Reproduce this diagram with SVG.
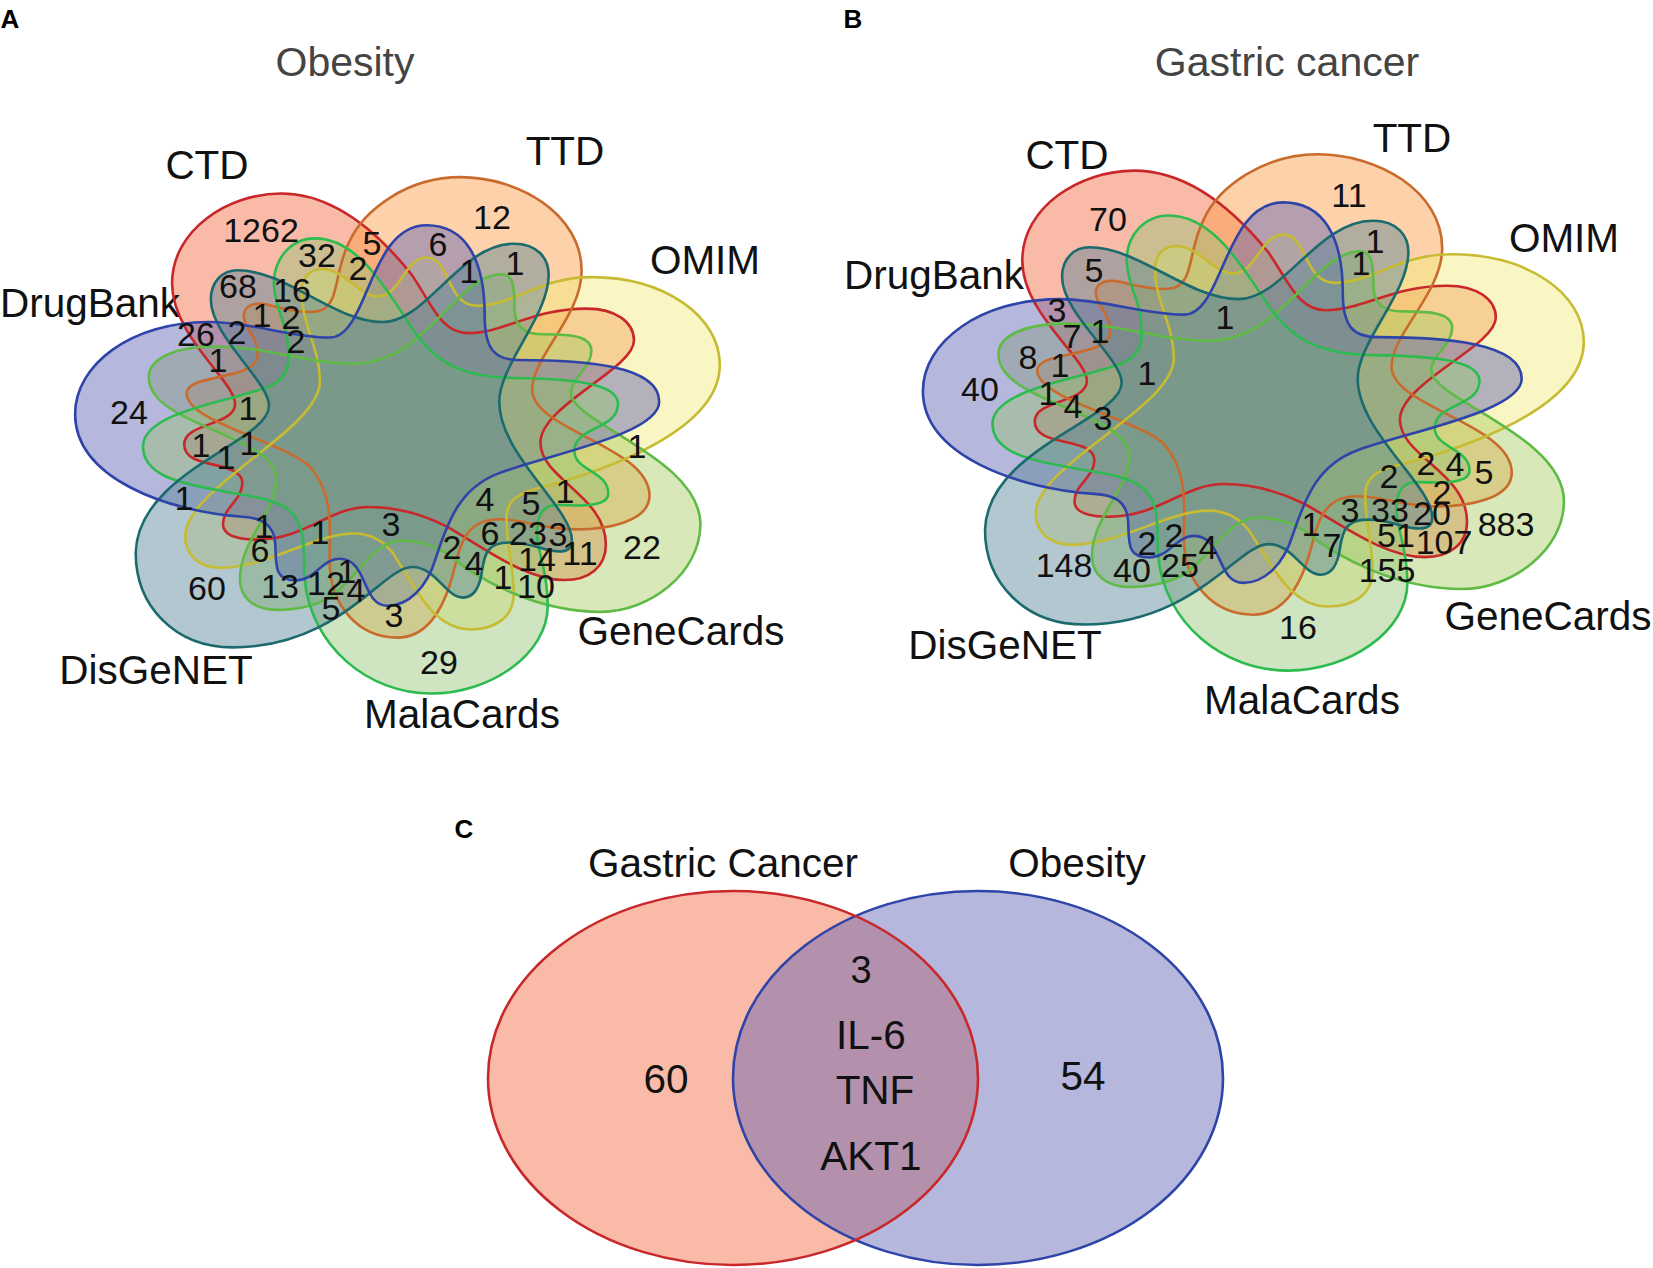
<svg xmlns="http://www.w3.org/2000/svg" width="1653" height="1268" viewBox="0 0 1653 1268">
<style>
text{font-family:"Liberation Sans",Arial,sans-serif;fill:#111;text-anchor:middle}
.n{font-size:34px}.l{font-size:40.5px}.t{font-size:41px;fill:#444}.p{font-size:26px;font-weight:bold;fill:#000}
.f{fill-opacity:.45;stroke:none}.o{fill:none;stroke-width:2.6}
.f.blue{fill:#5d5fb1}.f.red{fill:#f2683e}.f.orange{fill:#fb9b42}.f.yellow{fill:#f2eb7c}.f.lg{fill:#a8cc61}.f.green{fill:#94c373}.f.teal{fill:#548394}
.o.blue{stroke:#2e44a8}.o.red{stroke:#c8282a}.o.orange{stroke:#c96b2c}.o.yellow{stroke:#c6bb32}.o.lg{stroke:#5fbb45}.o.green{stroke:#2dbb50}.o.teal{stroke:#1a6a6e}
</style>
<defs>
<path id="pblue" vector-effect="non-scaling-stroke" d="M155,720C155,600 270,495 430,495C520,495 600,533 680,533C760,533 760,258 880,258C960,258 1000,340 1000,480C1000,560 1020,588 1070,588C1200,588 1360,600 1360,690C1360,770 1130,820 1030,865C950,900 925,980 900,1070C880,1150 840,1190 800,1190C745,1190 760,1075 700,1075C665,1075 650,1128 610,1128C565,1128 570,1090 568,1040C566,990 540,975 500,972C350,960 155,880 155,720Z"/>
<path id="pred" vector-effect="non-scaling-stroke" d="M580,180C680,180 770,260 850,380C890,450 910,522 965,522C1040,522 1100,462 1210,462C1270,462 1308,495 1308,540C1308,610 1115,700 1115,790C1115,880 1250,920 1250,1040C1250,1095 1215,1127 1165,1127C1080,1127 990,1040 920,995C870,965 820,948 760,948C680,948 630,1028 530,1028C480,1028 460,1015 460,990C460,950 500,930 500,890C500,830 380,860 380,795C380,740 485,750 485,695C485,640 355,530 355,400C355,270 470,180 580,180Z"/>
<path id="porange" vector-effect="non-scaling-stroke" d="M950,140C1070,140 1200,230 1200,370C1200,480 1098,580 1098,660C1098,760 1340,800 1340,920C1340,985 1250,1003 1190,1003C1120,1003 1080,978 1030,978C960,978 950,1040 935,1110C915,1200 880,1268 820,1268C740,1268 680,1190 680,1080C680,1000 690,920 640,850C590,790 385,740 385,670C385,620 530,640 532,575C532,530 503,510 503,480C503,450 530,447 550,452C590,465 640,478 665,465C700,445 690,370 720,300C750,220 840,140 950,140Z"/>
<path id="pyellow" vector-effect="non-scaling-stroke" d="M1220,385C1370,385 1485,480 1485,600C1485,760 1250,860 1100,905C1060,920 1045,940 1045,975C1045,1040 1060,1100 1060,1160C1060,1220 1020,1248 970,1248C890,1248 850,1130 810,1060C790,1030 765,1013 730,1013C650,1013 550,1097 455,1097C410,1097 382,1065 382,1020C382,900 660,760 660,640C660,560 622,500 622,420C622,385 640,365 665,365C710,365 740,432 780,432C825,432 835,337 880,337C930,337 920,455 985,455C1060,455 1110,385 1220,385Z"/>
<path id="plg" vector-effect="non-scaling-stroke" d="M1445,990C1445,1110 1340,1205 1240,1205C1110,1205 990,1130 920,1060C890,1040 860,1030 830,1030C770,1030 740,1120 680,1170C650,1190 610,1200 570,1200C525,1200 495,1170 495,1125C495,1030 570,960 570,880C570,770 307,750 307,630C307,580 370,555 440,555C560,555 630,597 730,597C880,597 940,378 1035,378C1065,378 1060,430 1062,470C1064,510 1085,525 1120,525C1180,525 1220,530 1220,565C1220,610 1178,630 1178,670C1178,740 1445,830 1445,990Z"/>
<path id="pgreen" vector-effect="non-scaling-stroke" d="M890,1405C760,1405 640,1290 628,1120C625,1070 635,1000 600,960C570,925 500,920 450,907C370,890 295,870 295,800C295,710 500,685 560,650C600,625 597,590 593,540C590,500 565,450 565,400C565,340 600,290 650,290C740,290 800,420 850,510C900,600 960,630 1060,632C1160,634 1275,640 1275,695C1275,760 1185,750 1185,810C1185,860 1255,860 1255,915C1255,950 1190,945 1150,943C1115,943 1108,975 1108,1010C1108,1060 1130,1100 1130,1190C1130,1310 1010,1405 890,1405Z"/>
<path id="pteal" vector-effect="non-scaling-stroke" d="M280,1060C285,860 555,790 555,700C555,640 435,530 435,440C435,395 460,368 490,368C590,368 690,495 790,495C880,495 950,303 1060,303C1110,303 1132,340 1132,380C1132,480 1030,600 1030,690C1030,820 1180,950 1180,1030C1180,1050 1170,1057 1155,1057C1120,1057 1100,1035 1050,1035C1005,1035 1000,1065 995,1100C990,1150 975,1170 955,1170C920,1170 900,1095 850,1095C790,1095 700,1292 480,1292C360,1292 280,1190 280,1060Z"/>
</defs>
<g id="panel-a-sets">
<g id="a-ctd"><use href="#pred" class="f red" transform="matrix(.4847,0,0,.4082,0,120)"/><text class="l" x="207" y="179">CTD</text></g>
<g id="a-ttd"><use href="#porange" class="f orange" transform="matrix(.4847,0,0,.4082,0,120)"/><text class="l" x="565" y="165">TTD</text></g>
<g id="a-omim"><use href="#pyellow" class="f yellow" transform="matrix(.4847,0,0,.4082,0,120)"/><text class="l" x="705" y="274">OMIM</text></g>
<g id="a-genecards"><use href="#plg" class="f lg" transform="matrix(.4847,0,0,.4082,0,120)"/><text class="l" x="681" y="645">GeneCards</text></g>
<g id="a-drugbank"><use href="#pblue" class="f blue" transform="matrix(.4847,0,0,.4082,0,120)"/><text class="l" x="90" y="317">DrugBank</text></g>
<g id="a-malacards"><use href="#pgreen" class="f green" transform="matrix(.4847,0,0,.4082,0,120)"/><text class="l" x="462" y="728">MalaCards</text></g>
<g id="a-disgenet"><use href="#pteal" class="f teal" transform="matrix(.4847,0,0,.4082,0,120)"/><text class="l" x="156" y="684">DisGeNET</text></g>
</g>
<g id="panel-a-outlines" transform="matrix(.4847,0,0,.4082,0,120)">
<use href="#pred" class="o red"/><use href="#porange" class="o orange"/><use href="#pyellow" class="o yellow"/><use href="#plg" class="o lg"/><use href="#pgreen" class="o green"/><use href="#pteal" class="o teal"/><use href="#pblue" class="o blue"/>
</g>
<g id="panel-a-numbers" class="n">
<text x="261" y="242">1262</text><text x="492" y="229">12</text><text x="372" y="255">5</text><text x="317" y="267">32</text><text x="438" y="256">6</text><text x="358" y="280">2</text><text x="469" y="283">1</text><text x="515" y="275">1</text><text x="238" y="298">68</text><text x="292" y="302">16</text><text x="262" y="327">1</text><text x="291" y="329">2</text><text x="196" y="346">26</text><text x="237" y="344">2</text><text x="296" y="353">2</text><text x="218" y="372">1</text><text x="248" y="420">1</text><text x="129" y="424">24</text><text x="201" y="457">1</text><text x="226" y="469">1</text><text x="249" y="455">1</text><text x="184" y="510">1</text><text x="637" y="458">1</text><text x="485" y="511">4</text><text x="531" y="515">5</text><text x="565" y="503">1</text><text x="642" y="559">22</text><text x="391" y="536">3</text><text x="264" y="538">1</text><text x="320" y="544">1</text><text x="490" y="545">6</text><text x="528" y="545">23</text><text x="558" y="546">3</text><text x="452" y="559">2</text><text x="260" y="562">6</text><text x="474" y="575">4</text><text x="537" y="571">14</text><text x="580" y="565">11</text><text x="503" y="589">1</text><text x="536" y="598">10</text><text x="347" y="583">1</text><text x="280" y="598">13</text><text x="326" y="595">12</text><text x="356" y="602">4</text><text x="331" y="620">5</text><text x="394" y="627">3</text><text x="207" y="600">60</text><text x="439" y="674">29</text>
</g>
<g id="panel-b-sets">
<g id="b-ctd"><use href="#pred" class="f red" transform="matrix(.4969,0,0,.4082,845.9,97.1)"/><text class="l" x="1067" y="169">CTD</text></g>
<g id="b-ttd"><use href="#porange" class="f orange" transform="matrix(.4969,0,0,.4082,845.9,97.1)"/><text class="l" x="1412" y="152">TTD</text></g>
<g id="b-omim"><use href="#pyellow" class="f yellow" transform="matrix(.4969,0,0,.4082,845.9,97.1)"/><text class="l" x="1564" y="252">OMIM</text></g>
<g id="b-genecards"><use href="#plg" class="f lg" transform="matrix(.4969,0,0,.4082,845.9,97.1)"/><text class="l" x="1548" y="630">GeneCards</text></g>
<g id="b-drugbank"><use href="#pblue" class="f blue" transform="matrix(.4969,0,0,.4082,845.9,97.1)"/><text class="l" x="934" y="289">DrugBank</text></g>
<g id="b-malacards"><use href="#pgreen" class="f green" transform="matrix(.4969,0,0,.4082,845.9,97.1)"/><text class="l" x="1302" y="714">MalaCards</text></g>
<g id="b-disgenet"><use href="#pteal" class="f teal" transform="matrix(.4969,0,0,.4082,845.9,97.1)"/><text class="l" x="1005" y="659">DisGeNET</text></g>
</g>
<g id="panel-b-outlines" transform="matrix(.4969,0,0,.4082,845.9,97.1)">
<use href="#pred" class="o red"/><use href="#porange" class="o orange"/><use href="#pyellow" class="o yellow"/><use href="#plg" class="o lg"/><use href="#pgreen" class="o green"/><use href="#pteal" class="o teal"/><use href="#pblue" class="o blue"/>
</g>
<g id="panel-b-numbers" class="n">
<text x="1108" y="231">70</text><text x="1349" y="207">11</text><text x="1375" y="253">1</text><text x="1361" y="275">1</text><text x="1094" y="282">5</text><text x="1057" y="322">3</text><text x="1072" y="348">7</text><text x="1100" y="343">1</text><text x="1225" y="329">1</text><text x="1028" y="369">8</text><text x="1060" y="377">1</text><text x="1147" y="385">1</text><text x="980" y="401">40</text><text x="1048" y="405">1</text><text x="1073" y="418">4</text><text x="1103" y="430">3</text><text x="1426" y="475">2</text><text x="1455" y="476">4</text><text x="1484" y="484">5</text><text x="1389" y="488">2</text><text x="1442" y="504">2</text><text x="1350" y="522">3</text><text x="1390" y="522">33</text><text x="1432" y="525">20</text><text x="1506" y="536">883</text><text x="1311" y="536">1</text><text x="1396" y="547">51</text><text x="1444" y="554">107</text><text x="1332" y="557">7</text><text x="1387" y="582">155</text><text x="1147" y="555">2</text><text x="1174" y="547">2</text><text x="1208" y="559">4</text><text x="1064" y="577">148</text><text x="1132" y="582">40</text><text x="1180" y="577">25</text><text x="1298" y="639">16</text>
</g>
<g id="panel-c">
<g id="c-gastric"><ellipse class="f red" cx="733" cy="1078" rx="245" ry="187"/><text class="l" x="723" y="877">Gastric Cancer</text></g>
<g id="c-obesity"><ellipse class="f blue" cx="978" cy="1078" rx="245" ry="187"/><text class="l" x="1077" y="877">Obesity</text></g>
<ellipse class="o blue" cx="978" cy="1078" rx="245" ry="187"/><ellipse class="o red" cx="733" cy="1078" rx="245" ry="187"/>
<text class="l" x="861" y="983" style="font-size:38px">3</text><text class="l" x="666" y="1093">60</text><text class="l" x="871" y="1049">IL-6</text><text class="l" x="875" y="1104">TNF</text><text class="l" x="871" y="1170">AKT1</text><text class="l" x="1083" y="1090">54</text>
</g>
<g id="titles">
<text class="t" x="345" y="76">Obesity</text><text class="t" x="1287" y="76">Gastric cancer</text>
<text class="p" x="10" y="28">A</text><text class="p" x="853" y="28">B</text><text class="p" x="464" y="838">C</text>
</g>
</svg>
